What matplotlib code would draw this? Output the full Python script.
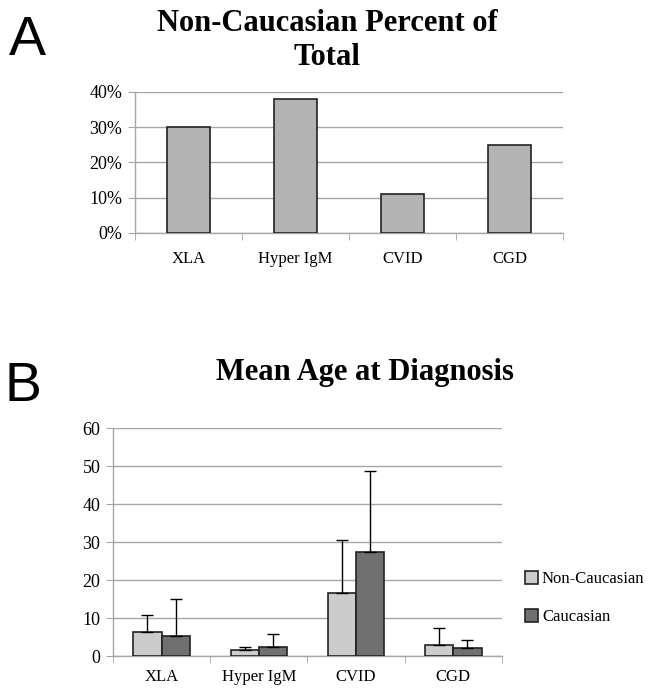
import matplotlib
matplotlib.use("Agg")
import matplotlib.pyplot as plt
import numpy as np
from matplotlib.ticker import FuncFormatter

categories = ["XLA", "Hyper IgM", "CVID", "CGD"]
pct_non_caucasian = [30, 38, 11, 25]
pct_ticks = [0, 10, 20, 30, 40]

series_names = ["Non-Caucasian", "Caucasian"]
age_non_caucasian = [6.3, 1.5, 16.5, 2.9]
age_caucasian = [5.3, 2.4, 27.3, 2.0]
err_non_caucasian = [4.5, 0.8, 13.9, 4.4]
err_caucasian = [9.7, 3.3, 21.4, 2.3]
age_ticks = [0, 10, 20, 30, 40, 50, 60]

SERIF = ["Liberation Serif", "DejaVu Serif"]
GRID = "#a6a6a6"

fig = plt.figure(figsize=(6.49, 6.92), dpi=100)

def style_axes(ax, ymax, ticks, xpad):
    x = np.arange(len(categories))
    ax.set_xlim(-0.5, len(categories) - 0.5)
    ax.set_ylim(0, ymax)
    ax.set_yticks(ticks)
    ax.yaxis.grid(True, color=GRID, linewidth=1)
    ax.set_axisbelow(True)
    for s in ["top", "right"]:
        ax.spines[s].set_visible(False)
    for s in ["left", "bottom"]:
        ax.spines[s].set_color(GRID)
        ax.spines[s].set_linewidth(1)
    ax.set_xticks(x)
    ax.set_xticklabels(categories, fontfamily=SERIF, fontsize=12)
    ax.tick_params(axis="x", which="major", length=0, pad=xpad)
    ax.set_xticks(np.arange(-0.5, len(categories)), minor=True)
    ax.tick_params(axis="x", which="minor", length=5, color=GRID, direction="out")
    ax.tick_params(axis="y", length=5, color=GRID, labelsize=13, pad=4)

# Panel A
axA = fig.add_axes([0.208, 0.6633, 0.6595, 0.2038])
xA = np.arange(len(categories))
axA.bar(xA, pct_non_caucasian, width=0.4, color="#b3b3b3", edgecolor="#222222", linewidth=1.2, zorder=3)
style_axes(axA, 40, pct_ticks, 13)
axA.yaxis.set_major_formatter(FuncFormatter(lambda v, p: f"{int(v)}%"))
for lab in axA.get_yticklabels():
    lab.set_fontfamily(SERIF)
fig.text(0.504, 0.987, "Non-Caucasian Percent of\nTotal", ha="center", va="top",
         fontfamily=SERIF, fontweight="bold", fontsize=22, linespacing=1.25)
fig.text(0.014, 0.978, "A", ha="left", va="top", fontfamily="Liberation Sans", fontsize=40)

# Panel B
axB = fig.add_axes([0.174, 0.052, 0.5995, 0.3295])
xB = np.arange(len(categories))
w = 0.29
ekw = dict(ecolor="black", elinewidth=1, capsize=4, capthick=1)
axB.bar(xB - w / 2, age_non_caucasian, width=w, color="#cccccc", edgecolor="#222222",
        linewidth=1.2, zorder=3, label=series_names[0],
        yerr=[np.zeros(4), err_non_caucasian], error_kw=ekw)
axB.bar(xB + w / 2, age_caucasian, width=w, color="#707070", edgecolor="#222222",
        linewidth=1.2, zorder=3, label=series_names[1],
        yerr=[np.zeros(4), err_caucasian], error_kw=ekw)
style_axes(axB, 60, age_ticks, 9)
for lab in axB.get_yticklabels():
    lab.set_fontfamily(SERIF)
fig.text(0.563, 0.4610, "Mean Age at Diagnosis", ha="center", va="center",
         fontfamily=SERIF, fontweight="bold", fontsize=22)
fig.text(0.007, 0.479, "B", ha="left", va="top", fontfamily="Liberation Sans", fontsize=40)
leg = axB.legend(loc="center left", bbox_to_anchor=(1.06, 0.254), frameon=False,
                 prop={"family": SERIF, "size": 12}, handlelength=0.75, handleheight=0.8,
                 handletextpad=0.25, labelspacing=1.3, borderaxespad=0, borderpad=0)

fig.savefig("out.png", dpi=100)
